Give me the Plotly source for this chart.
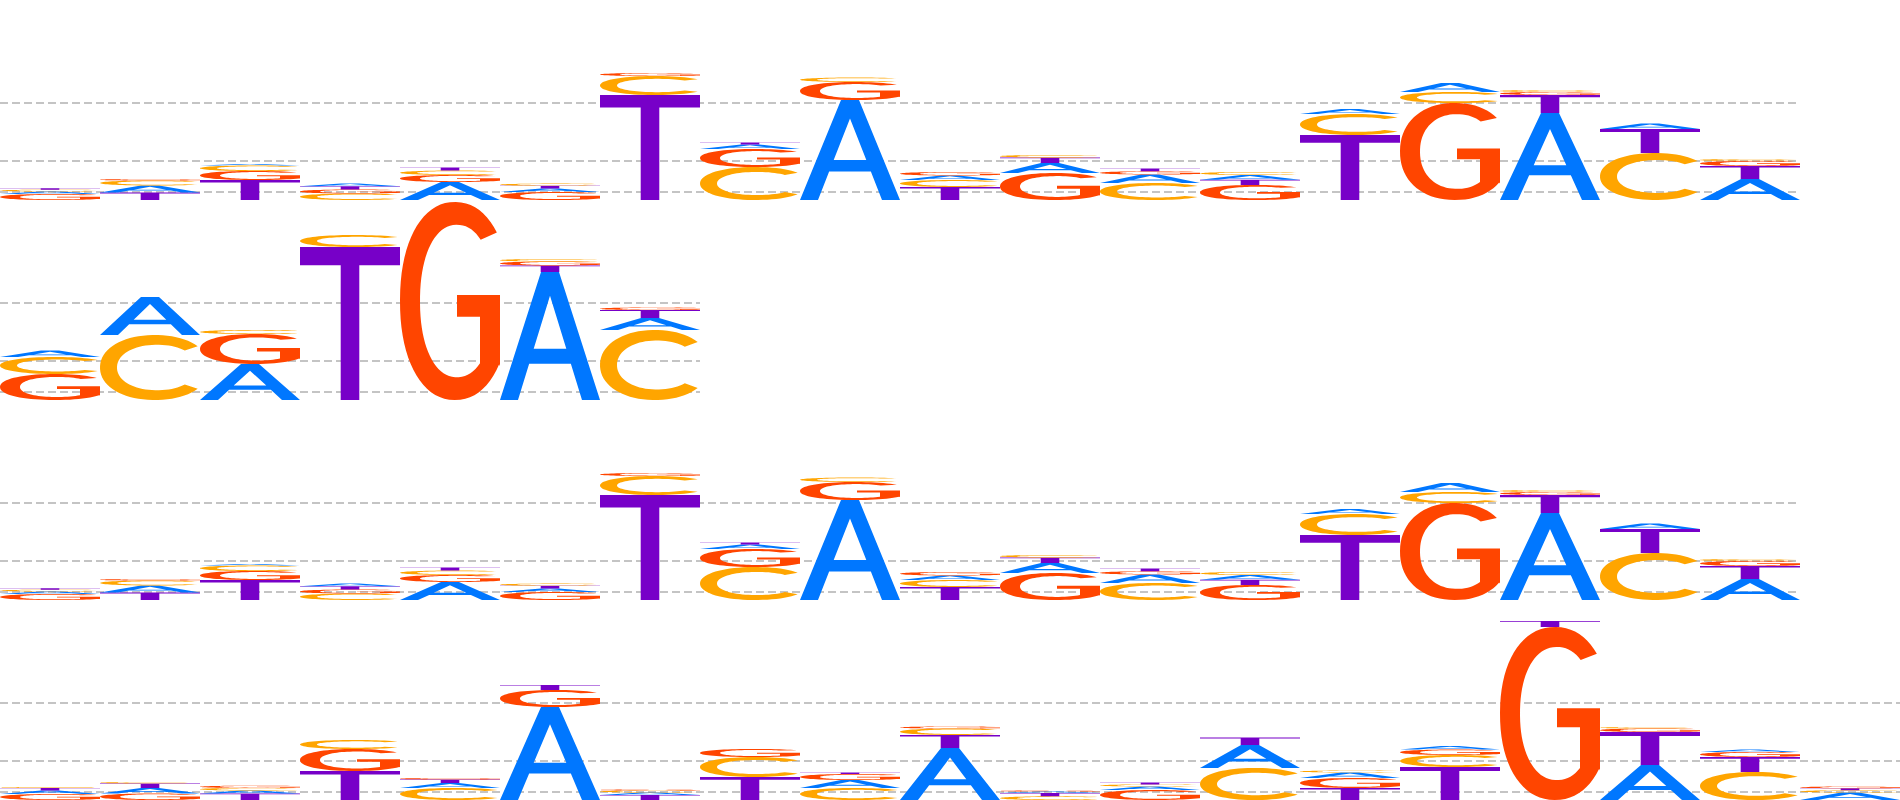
import numpy as np
import plotly.graph_objects as go

# ---------------- data (information content, bits) ----------------
LETTERS = ["A", "C", "G", "T"]
COLORS = {"A": "#0077FF", "C": "#FFA500", "G": "#FF4500", "T": "#7700C8"}

ROW1_A = [0.025, 0.070, 0.015, 0.028, 0.180, 0.035, 0.000, 0.045, 1.000, 0.045, 0.100, 0.085, 0.048, 0.050, 0.090, 0.870, 0.055, 0.210]
ROW1_C = [0.018, 0.050, 0.055, 0.065, 0.045, 0.022, 0.190, 0.330, 0.045, 0.070, 0.025, 0.170, 0.030, 0.210, 0.110, 0.020, 0.470, 0.020]
ROW1_G = [0.060, 0.015, 0.090, 0.040, 0.070, 0.080, 0.030, 0.180, 0.180, 0.035, 0.270, 0.032, 0.150, 0.000, 0.970, 0.030, 0.000, 0.050]
ROW1_T = [0.014, 0.075, 0.200, 0.032, 0.030, 0.027, 1.050, 0.020, 0.000, 0.130, 0.055, 0.028, 0.052, 0.650, 0.000, 0.180, 0.240, 0.130]

ROW2_A = [0.065, 0.380, 0.360, 0.000, 0.000, 1.280, 0.120]
ROW2_C = [0.170, 0.650, 0.040, 0.120, 0.000, 0.025, 0.700]
ROW2_G = [0.260, 0.000, 0.300, 0.000, 1.980, 0.040, 0.025]
ROW2_T = [0.000, 0.000, 0.000, 1.530, 0.000, 0.065, 0.080]

ROW3_A = list(ROW1_A)
ROW3_C = list(ROW1_C)
ROW3_G = list(ROW1_G)
ROW3_T = list(ROW1_T)

ROW4_A = [0.035, 0.055, 0.030, 0.000, 0.050, 0.930, 0.025, 0.000, 0.080, 0.520, 0.015, 0.035, 0.230, 0.055, 0.035, 0.000, 0.350, 0.025, 0.075]
ROW4_C = [0.010, 0.015, 0.026, 0.090, 0.120, 0.000, 0.020, 0.200, 0.120, 0.065, 0.037, 0.021, 0.320, 0.020, 0.120, 0.000, 0.015, 0.280, 0.022]
ROW4_G = [0.060, 0.065, 0.022, 0.220, 0.015, 0.170, 0.010, 0.080, 0.060, 0.020, 0.010, 0.100, 0.000, 0.100, 0.055, 1.730, 0.035, 0.050, 0.018]
ROW4_T = [0.025, 0.045, 0.065, 0.290, 0.035, 0.050, 0.050, 0.230, 0.015, 0.130, 0.033, 0.018, 0.075, 0.120, 0.330, 0.060, 0.330, 0.150, 0.020]

ROWS = [
    {"A": ROW1_A, "C": ROW1_C, "G": ROW1_G, "T": ROW1_T},
    {"A": ROW2_A, "C": ROW2_C, "G": ROW2_G, "T": ROW2_T},
    {"A": ROW3_A, "C": ROW3_C, "G": ROW3_G, "T": ROW3_T},
    {"A": ROW4_A, "C": ROW4_C, "G": ROW4_G, "T": ROW4_T},
]
GRID_VALUES = [0.085, 0.395, 0.975]
MAX_LEN = 19
Y_MAX = 2.0


# ---------------- glyph outlines in a unit box ----------------
def sarc(cx, cy, rx, ry, a0, a1, e=1.0, n=60):
    t = np.radians(np.linspace(a0, a1, n))
    c, s = np.cos(t), np.sin(t)
    xs = cx + rx * np.sign(c) * np.abs(c) ** e
    ys = cy + ry * np.sign(s) * np.abs(s) ** e
    return list(zip(xs, ys))


def angle_at_x(cx, rx, x, e=1.0):
    c = ((x - cx) / rx) ** (1.0 / e)
    return 360.0 - np.degrees(np.arccos(c))


E_C = 0.95
E_G = 0.92
_g_in = angle_at_x(0.57, 0.37, 0.80, E_G)

GLYPHS = {
    "A": [
        [(0, 0), (0.41, 1), (0.59, 1), (1, 0), (0.82, 0), (0.7085, 0.284), (0.2915, 0.284), (0.18, 0)],
        [(0.5, 0.815), (0.663, 0.40), (0.337, 0.40)],
    ],
    "T": [
        [(0, 1), (1, 1), (1, 0.88), (0.593, 0.88), (0.593, 0), (0.407, 0), (0.407, 0.88), (0, 0.88)],
    ],
    "C": [
        sarc(0.55, 0.5, 0.55, 0.5, 40, 320, E_C) + sarc(0.57, 0.5, 0.40, 0.35, 313, 47, E_C),
    ],
    "G": [
        sarc(0.55, 0.5, 0.55, 0.5, 42, 322, E_G)
        + [(1.0, 0.17), (1.0, 0.53), (0.57, 0.53), (0.57, 0.42), (0.80, 0.42)]
        + sarc(0.57, 0.5, 0.37, 0.385, _g_in, 52, E_G),
    ],
}


def glyph_path(letter, x0, x1, y0, y1):
    parts = []
    for poly in GLYPHS[letter]:
        pts = [(x0 + (x1 - x0) * px, y0 + (y1 - y0) * py) for px, py in poly]
        s = "M" + " L".join(f"{x:.4f},{y:.5f}" for x, y in pts) + " Z"
        parts.append(s)
    return " ".join(parts)


fig = go.Figure()
shapes = []
layout_axes = {}

for r, row in enumerate(ROWS):
    k = r + 1
    xa = "x" if k == 1 else f"x{k}"
    ya = "y" if k == 1 else f"y{k}"
    n = len(row["A"])
    positions = list(range(1, n + 1))

    # invisible anchor trace so that the subplot exists
    fig.add_trace(go.Scatter(x=[positions[0]], y=[0], xaxis=xa, yaxis=ya, mode="markers",
                             marker=dict(opacity=0), hoverinfo="skip", showlegend=False))

    for i, pos in enumerate(positions):
        vals = [(row[L][i], L) for L in LETTERS if row[L][i] > 0]
        vals.sort(key=lambda v: -v[0])
        base = 0.0
        for h, L in vals:
            shapes.append(dict(
                type="path", xref=xa, yref=ya,
                path=glyph_path(L, pos - 0.5, pos + 0.5, base, base + h),
                fillcolor=COLORS[L], line=dict(width=0), fillrule="evenodd", layer="above",
            ))
            base += h

    layout_axes["xaxis" if k == 1 else f"xaxis{k}"] = dict(
        domain=[0, n / MAX_LEN], range=[0.5, n + 0.5], anchor=ya,
        showgrid=False, zeroline=False, showticklabels=False, ticks="", showline=False, fixedrange=True,
    )
    layout_axes["yaxis" if k == 1 else f"yaxis{k}"] = dict(
        domain=[(3 - r) / 4, (4 - r) / 4], range=[0, Y_MAX], anchor=xa,
        tickvals=GRID_VALUES, showticklabels=False, ticks="", showgrid=True,
        gridcolor="#c4c4c4", gridwidth=1.5, griddash="8px,4px",
        zeroline=False, showline=False, fixedrange=True,
    )

fig.update_layout(
    width=1900, height=800,
    margin=dict(l=0, r=0, t=0, b=0),
    paper_bgcolor="white", plot_bgcolor="white",
    showlegend=False,
    shapes=shapes,
    **layout_axes,
)

fig.write_html("out.html", config={"displayModeBar": False},
               post_script="document.body.style.margin='0';")
